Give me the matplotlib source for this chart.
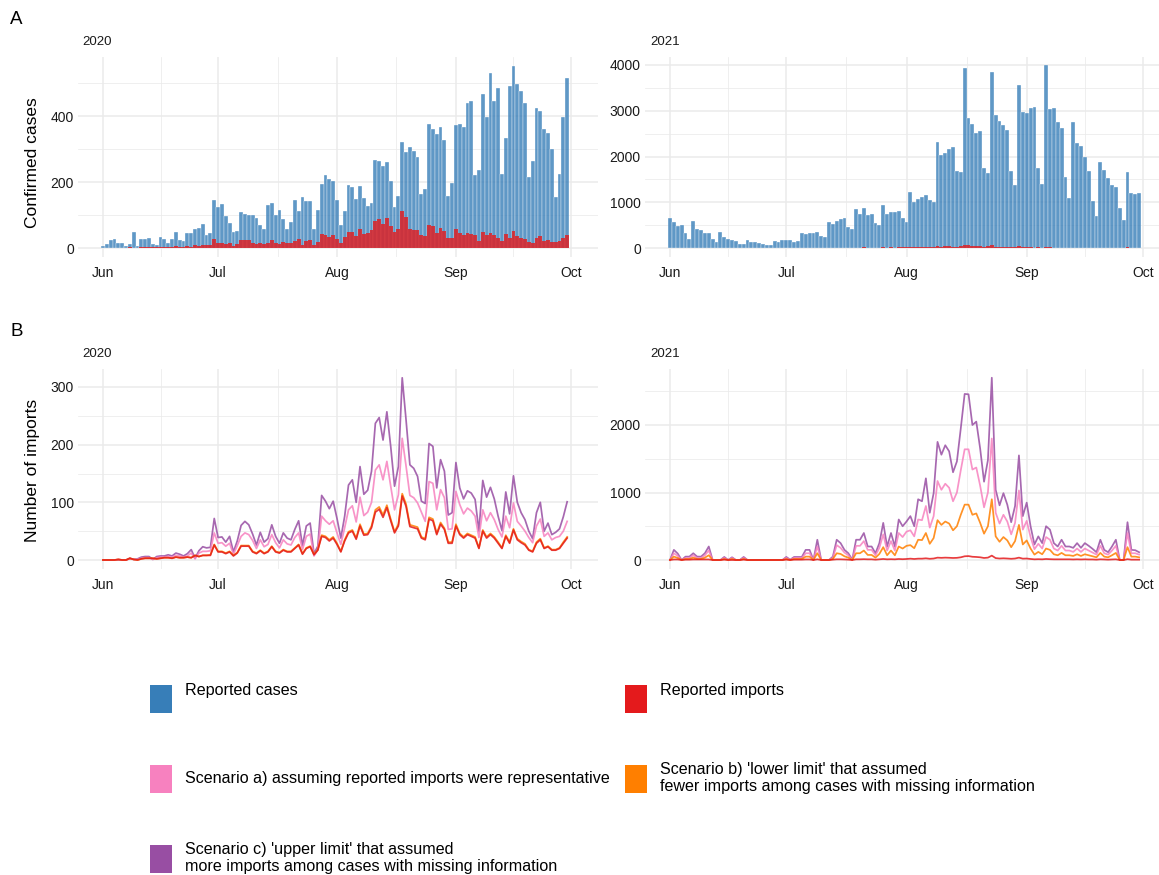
import matplotlib
matplotlib.use('Agg')
import matplotlib.pyplot as plt
import matplotlib.dates as mdates
import numpy as np
import pandas as pd
from matplotlib.patches import Rectangle
from matplotlib.ticker import FixedLocator, MultipleLocator

plt.rcParams['font.family'] = ['Liberation Sans', 'DejaVu Sans']

# ---------------- data ----------------
dates_2020 = pd.date_range('2020-06-01', '2020-09-30')
dates_2021 = pd.date_range('2021-06-01', '2021-09-30')

cases_2020 = [7,11,23,26,16,16,5,13,50,7,28,27,31,13,10,34,26,16,26,49,23,20,45,46,58,62,73,38,46,145,
              124,133,98,75,47,53,110,104,100,101,92,70,58,131,135,101,115,87,59,78,146,111,155,143,141,59,114,193,222,209,203,
              146,69,112,191,185,148,189,151,126,137,266,265,248,260,203,124,157,320,290,305,295,276,165,178,377,362,344,367,326,158,197,
              374,376,368,440,446,221,235,467,396,530,445,486,224,332,491,551,497,475,439,215,265,425,416,362,349,299,154,224,398,514]

imports_2020 = [0,0,0,0,1,0,0,3,1,0,2,3,3,3,2,3,4,4,3,5,4,4,5,4,8,6,8,8,8,26,
                14,14,11,14,7,12,24,24,24,14,11,16,11,14,23,14,12,17,14,14,20,26,10,20,23,9,17,41,39,33,38,
                27,14,33,47,50,36,59,43,44,56,83,88,74,91,68,47,59,111,93,58,56,54,38,35,71,68,44,62,53,29,29,
                59,44,38,44,41,38,20,50,38,44,38,29,20,41,29,52,35,30,26,17,14,29,35,20,23,17,17,20,29,38]

lower_2020 = [0,0,0,0,1,0,0,3,1,0,2,3,3,3,2,3,4,4,3,5,4,4,5,4,8,6,8,8,9,27,
              15,15,12,15,8,13,25,25,25,15,12,17,12,15,24,15,13,18,15,15,21,27,11,21,24,10,18,43,41,35,40,
              29,15,35,49,52,38,62,45,46,59,87,92,78,95,71,49,62,115,97,61,59,57,40,37,74,71,46,65,55,31,31,
              62,46,40,46,43,40,21,52,40,46,40,31,21,43,31,54,37,32,28,18,15,31,37,21,24,18,18,21,31,40]

repr_2020 = [0,0,0,0,1,0,0,2,1,1,3,4,4,1,4,5,5,6,5,8,7,5,7,12,2,12,15,15,16,47,
             29,30,24,29,10,25,41,47,44,34,20,35,23,27,44,30,21,35,28,26,39,47,18,41,45,7,18,76,68,62,68,
             47,27,56,87,94,66,109,77,83,100,156,165,139,171,128,87,113,211,163,112,108,99,83,67,136,133,87,122,108,53,54,
             119,96,80,90,85,76,39,87,68,82,70,53,40,76,56,99,67,59,50,39,30,59,71,41,47,35,39,41,50,67]

upper_2020 = [0,0,0,0,0,0,0,3,1,2,5,6,6,1,6,7,7,9,7,12,10,7,11,18,3,16,23,21,22,72,
              39,40,31,41,14,33,60,67,61,45,26,48,31,37,61,41,29,47,38,35,53,68,25,59,64,11,24,112,102,89,102,
              72,38,76,130,139,100,162,114,121,154,237,247,208,257,197,128,162,316,243,165,159,145,102,98,202,197,125,174,154,78,82,
              169,125,106,120,116,105,50,138,109,126,106,76,51,118,80,146,100,82,70,50,37,82,100,50,64,44,48,54,75,101]

cases_2021 = [657,562,482,496,321,190,591,423,387,321,321,190,124,343,234,197,168,153,95,80,168,124,124,110,95,58,58,146,124,168,
              168,168,131,146,321,300,321,321,343,254,232,573,522,595,624,645,450,406,856,740,877,725,747,537,493,950,740,790,790,812,660,
              558,1233,1000,1073,1124,1153,1051,1015,2313,2023,2074,2160,2204,1682,1653,3944,2842,2711,2523,2552,1747,1638,3850,2907,2770,2690,2588,1675,1385,3553,2973,
              2944,3052,3074,1747,1399,3995,3038,3052,2762,2617,1544,1095,2762,2291,2240,1987,1682,1022,696,1878,1697,1530,1378,1334,885,609,1660,1211,1189,1196]

imports_2021 = [0,8,8,0,5,5,8,8,8,8,8,0,0,0,5,0,0,0,0,5,0,0,0,0,0,0,0,0,0,0,
                5,0,5,5,5,8,8,0,10,0,0,0,5,10,10,8,5,0,10,10,12,10,10,5,10,15,10,12,10,15,12,
                15,20,15,20,20,25,18,22,35,32,35,33,30,32,40,55,58,48,45,40,30,35,65,28,22,25,22,18,22,35,20,
                22,15,10,12,10,15,12,10,10,10,10,10,8,10,8,10,8,8,5,10,8,5,8,10,0,0,12,5,5,5]

lower_2021 = [0,50,30,0,15,15,35,15,15,35,70,0,0,0,15,0,15,0,0,15,0,0,0,0,0,0,0,0,0,0,
              15,0,15,15,15,50,50,0,100,0,0,0,15,100,90,55,35,0,100,100,140,75,75,35,90,190,70,140,70,200,170,
              210,220,175,300,295,400,240,325,590,520,570,540,440,500,670,820,820,670,690,550,390,500,900,350,270,340,290,190,280,520,230,
              290,170,80,120,85,170,150,85,70,105,70,70,60,85,60,85,70,55,40,105,50,40,70,105,0,0,190,50,50,40]

repr_2021 = [0,100,60,0,30,30,70,30,30,70,140,0,0,0,30,0,30,0,0,30,0,0,0,0,0,0,0,0,0,0,
             30,0,30,30,30,100,100,0,200,0,0,0,30,220,180,110,70,0,210,210,280,150,150,70,180,380,140,280,140,400,340,
             420,440,350,600,590,800,480,650,1170,1040,1130,1070,870,1000,1330,1640,1640,1340,1370,1100,780,1000,1800,700,540,670,570,380,550,1030,450,
             580,340,160,240,170,340,300,170,140,210,140,140,120,170,120,170,140,110,80,210,100,80,140,210,0,0,400,100,100,80]

upper_2021 = [0,150,95,0,50,50,100,50,50,100,200,0,0,0,45,0,40,0,0,45,0,0,0,0,0,0,0,0,0,0,
              45,5,45,45,45,150,150,0,300,0,0,0,50,300,250,150,100,5,300,300,400,200,200,100,250,550,200,400,200,600,500,
              570,650,500,900,870,1210,700,990,1750,1560,1700,1610,1300,1460,1950,2460,2455,2000,2050,1650,1160,1480,2700,1040,810,990,820,560,800,1550,650,
              850,500,230,350,250,500,450,250,200,300,200,200,180,250,180,250,210,165,115,300,150,115,200,300,0,0,560,150,145,115]

legend_labels = ["Reported cases", "Reported imports",
                 "Scenario a) assuming reported imports were representative",
                 "Scenario b) 'lower limit' that assumed\nfewer imports among cases with missing information",
                 "Scenario c) 'upper limit' that assumed\nmore imports among cases with missing information"]

# ---------------- styles ----------------
C_BLUE = '#377EB8'
C_RED = '#E41A1C'
C_PINK = '#F781BF'
C_ORANGE = '#FF7F00'
C_PURPLE = '#984EA3'
legend_colors = [C_BLUE, C_RED, C_PINK, C_ORANGE, C_PURPLE]
GRID = '#EBEBEB'
TXT = '#1a1a1a'

W, H = 1159, 875
fig = plt.figure(figsize=(W / 100, H / 100), dpi=100)


def make_axes(L, T, R, B):
    return fig.add_axes([L / W, 1 - B / H, (R - L) / W, (B - T) / H])


def setup(ax, year, L, R, px_jun, px_oct, T, B, px_zero, px_per_unit, major, minor, ymax_tick):
    d_jun = mdates.date2num(pd.Timestamp(f'{year}-06-01'))
    d_oct = mdates.date2num(pd.Timestamp(f'{year}-10-01'))
    s = (px_oct - px_jun) / (d_oct - d_jun)
    ax.set_xlim(d_jun - (px_jun - L) / s, d_oct + (R - px_oct) / s)
    ax.set_ylim(-(B - px_zero) / px_per_unit, (px_zero - T) / px_per_unit)
    months = [pd.Timestamp(f'{year}-{m:02d}-01') for m in range(6, 11)]
    mnum = [mdates.date2num(m) for m in months]
    ax.xaxis.set_major_locator(FixedLocator(mnum))
    ax.xaxis.set_minor_locator(FixedLocator([(a + b) / 2 for a, b in zip(mnum[:-1], mnum[1:])]))
    ax.set_xticklabels([m.strftime('%b') for m in months])
    ax.yaxis.set_major_locator(FixedLocator(list(np.arange(0, ymax_tick + 1, major))))
    ax.yaxis.set_minor_locator(MultipleLocator(minor))
    ax.grid(which='major', color=GRID, lw=1.1)
    ax.grid(which='minor', color=GRID, lw=0.55)
    ax.set_axisbelow(True)
    for sp in ax.spines.values():
        sp.set_visible(False)
    ax.tick_params(which='both', length=0, labelsize=10, colors=TXT)
    ax.tick_params(axis='x', pad=6.5)
    ax.tick_params(axis='y', pad=3)


# Panel A 2020
axA1 = make_axes(78, 57, 598, 257)
axA1.bar(dates_2020, cases_2020, width=1.0, color=C_BLUE, alpha=0.8, edgecolor='white', linewidth=0.3)
axA1.bar(dates_2020, imports_2020, width=1.0, color=C_RED, alpha=0.8, edgecolor='none', linewidth=0)
setup(axA1, 2020, 78, 598, 103, 571, 57, 257, 248, 0.33, 200, 100, 400)

# Panel A 2021
axA2 = make_axes(645, 57, 1170, 257)
axA2.bar(dates_2021, cases_2021, width=1.0, color=C_BLUE, alpha=0.8, edgecolor='white', linewidth=0.3)
axA2.bar(dates_2021, imports_2021, width=1.0, color=C_RED, alpha=0.8, edgecolor='none', linewidth=0)
setup(axA2, 2021, 645, 1170, 670, 1143, 57, 257, 248, 183 / 4000, 1000, 500, 4000)

# Panel B 2020
axB1 = make_axes(78, 369, 598, 569)
for vals, col in [(upper_2020, C_PURPLE), (repr_2020, C_PINK), (lower_2020, C_ORANGE), (imports_2020, C_RED)]:
    axB1.plot(dates_2020, vals, color=col, lw=1.25, alpha=0.85)
setup(axB1, 2020, 78, 598, 103, 571, 369, 569, 560, 173 / 300, 100, 50, 300)

# Panel B 2021
axB2 = make_axes(645, 369, 1170, 569)
for vals, col in [(upper_2021, C_PURPLE), (repr_2021, C_PINK), (lower_2021, C_ORANGE), (imports_2021, C_RED)]:
    axB2.plot(dates_2021, vals, color=col, lw=1.25, alpha=0.85)
setup(axB2, 2021, 645, 1170, 670, 1143, 369, 569, 560, 135 / 2000, 1000, 500, 2000)


def ftext(x, y, s, **kw):
    fig.text(x / W, 1 - y / H, s, **kw)


ftext(10, 19, 'A', fontsize=13.5, va='center', ha='left', color='black')
ftext(10, 331, 'B', fontsize=13.5, va='center', ha='left', color='black')
for x, y, s in [(82, 42, '2020'), (650, 42, '2021'), (82, 354, '2020'), (650, 354, '2021')]:
    ftext(x, y, s, fontsize=9.5, va='center', ha='left', color=TXT)
ftext(33, 163, 'Confirmed cases', fontsize=12.5, rotation=90, va='center', ha='center', color='black')
ftext(33, 470, 'Number of imports', fontsize=12.5, rotation=90, va='center', ha='center', color='black')

# legend
key_pos = [(150, 685), (625, 685), (150, 765), (625, 765), (150, 845)]
for (kx, ky), col, lab in zip(key_pos, legend_colors, legend_labels):
    fig.add_artist(Rectangle((kx / W, 1 - (ky + 28) / H), 22 / W, 28 / H,
                             transform=fig.transFigure, facecolor=col, edgecolor='none'))
    nlines = lab.count('\n') + 1
    ty = ky + 6 if nlines == 1 and ky == 685 else (ky + 14 if nlines == 1 else ky + 13)
    ftext(kx + 35, ty, lab, fontsize=11.65, va='center', ha='left', color='black', linespacing=1.1)

fig.savefig('out.png', dpi=100)
